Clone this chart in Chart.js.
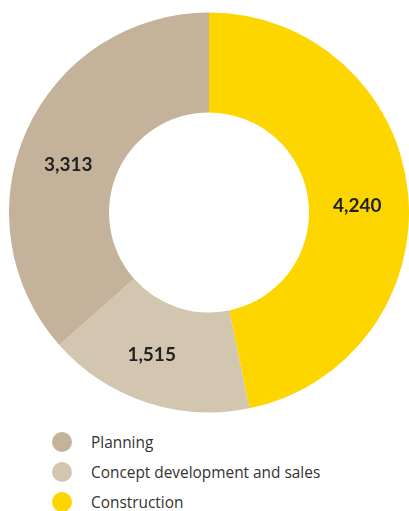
<!DOCTYPE html>
<html>
<head>
<meta charset="utf-8">
<script src="https://cdn.jsdelivr.net/npm/chart.js@4"></script>
<style>
  body { margin: 0; background: #fff; font-family: "Open Sans", sans-serif; }
  #wrap { position: relative; width: 409px; height: 511px; }
  #chartBox { position: absolute; left: 9px; top: 12px; width: 400px; height: 401px; }
  #legend { position: absolute; left: 52px; top: 427px; }
  .item { display: flex; align-items: center; height: 30px; font-size: 15.4px; color: #333; }
  .dot { width: 20px; height: 20px; border-radius: 50%; margin-right: 19px; }
</style>
</head>
<body>
<div id="wrap">
  <div id="chartBox"><canvas id="donut"></canvas></div>
  <div id="legend"></div>
</div>
<script>
// segments, clockwise from 12 o'clock
const categories = ["Construction", "Concept development and sales", "Planning"];
const values = [4240, 1515, 3313];
const colors = ["#FDD600", "#D3C6B1", "#C4B39A"];
const legendOrder = ["Planning", "Concept development and sales", "Construction"];

// small nudges so the numbers sit where the layout wants them
const labelNudge = [[-1, 9], [-10, 0], [-4, 14]];

const valueLabels = {
  id: "valueLabels",
  afterDatasetsDraw(chart) {
    const ctx = chart.ctx;
    const meta = chart.getDatasetMeta(0);
    ctx.save();
    ctx.font = "bold 19px Lato, sans-serif";
    ctx.fillStyle = "#222";
    ctx.textAlign = "center";
    ctx.textBaseline = "middle";
    meta.data.forEach((arc, i) => {
      const p = arc.tooltipPosition();
      const [dx, dy] = labelNudge[i];
      ctx.fillText(values[i].toLocaleString("en-US"), p.x + dx, p.y + dy);
    });
    ctx.restore();
  },
};

new Chart(document.getElementById("donut"), {
  type: "doughnut",
  data: {
    labels: categories,
    datasets: [
      {
        data: values,
        backgroundColor: colors,
        borderWidth: 0,
      },
    ],
  },
  options: {
    responsive: true,
    maintainAspectRatio: false,
    animation: false,
    cutout: "50%",
    plugins: { legend: { display: false }, tooltip: { enabled: false } },
  },
  plugins: [valueLabels],
});

const legend = document.getElementById("legend");
legendOrder.forEach((name) => {
  const idx = categories.indexOf(name);
  const row = document.createElement("div");
  row.className = "item";
  row.innerHTML = `<span class="dot" style="background:${colors[idx]}"></span>${name}`;
  legend.appendChild(row);
});
</script>
</body>
</html>
